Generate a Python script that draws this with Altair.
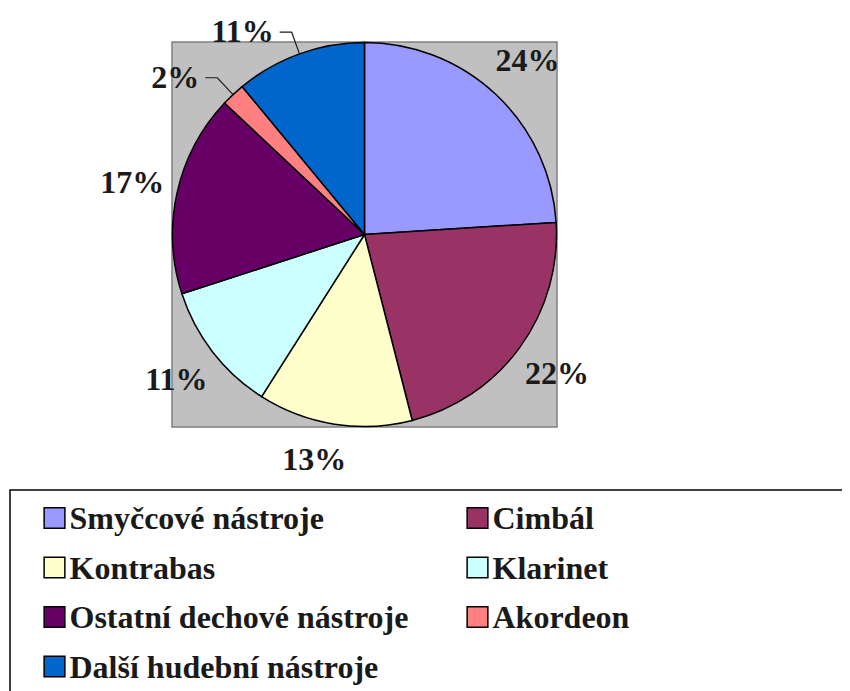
import math
import altair as alt
import pandas as pd

# ---- data ----
categories = ["Smyčcové nástroje", "Cimbál", "Kontrabas", "Klarinet",
              "Ostatní dechové nástroje", "Akordeon", "Další hudební nástroje"]
values = [24, 22, 13, 11, 17, 2, 11]
colors = ["#9999FF", "#993366", "#FFFFCC", "#CCFFFF", "#660066", "#FF8080", "#0066CC"]
leader_slices = ["Akordeon", "Další hudební nástroje"]

# ---- layout constants (chart coordinates = page - 8px margin) ----
CX, CY, R = 356.5, 226.5, 192
LABEL_R = 238
ELBOW_R = 215
FONT = "Liberation Serif"
NUDGED = "Kontrabas"          # label shifted by the original's label layout
NUDGE_DX, NUDGE_DY = -13, -10

total = sum(values)
rows = []
cum = 0
for i, (c, v) in enumerate(zip(categories, values)):
    kind = "leader" if c in leader_slices else ("nudge" if c == NUDGED else "plain")
    rows.append(dict(cat=c, value=v, label=f"{v}%", start=cum, end=cum + v,
                     mid=cum + v / 2, order=i, col=i % 2, row=i // 2, kind=kind))
    cum += v
df = pd.DataFrame(rows)

# leader line geometry derived from slice mid-angles
lrows = []
for r in rows:
    if r["kind"] != "leader":
        continue
    a = r["mid"] / total * 2 * math.pi
    ex, ey = CX + R * math.sin(a), CY - R * math.cos(a)
    bx, by = CX + ELBOW_R * math.sin(a), CY - ELBOW_R * math.cos(a)
    lrows += [dict(cat=r["cat"], k=0, px=ex, py=ey),
              dict(cat=r["cat"], k=1, px=bx, py=by),
              dict(cat=r["cat"], k=2, px=bx - 12, py=by)]
ldf = pd.DataFrame(lrows)

theta_scale = alt.Scale(domain=[0, total])
color_scale = alt.Scale(domain=categories, range=colors)
one = pd.DataFrame({"a": [0]})

panel = alt.Chart(one).mark_rect(fill="#C0C0C0", stroke="#808080", strokeWidth=1.5).encode(
    x=alt.value(CX - R - 0.5), x2=alt.value(CX + R + 0.5),
    y=alt.value(CY - R - 0.5), y2=alt.value(CY + R + 0.5))

pie = alt.Chart(df).mark_arc(stroke="black", strokeWidth=1.5).encode(
    theta=alt.Theta("start:Q", scale=theta_scale, stack=None),
    theta2="end:Q",
    color=alt.Color("cat:N", scale=color_scale, legend=None),
    order=alt.Order("order:Q"),
    x=alt.value(CX), y=alt.value(CY), radius=alt.value(R))


def pct_labels(kind, radius, **mark_kw):
    return alt.Chart(df).transform_filter(alt.datum.kind == kind).mark_text(
        font=FONT, fontSize=32, fontWeight="bold", color="#1a1a1a",
        baseline="middle", **mark_kw).encode(
        theta=alt.Theta("mid:Q", scale=theta_scale, stack=None),
        radius=alt.value(radius), text="label:N",
        x=alt.value(CX), y=alt.value(CY))


labels_main = pct_labels("plain", LABEL_R, align="center")
labels_nudge = pct_labels("nudge", LABEL_R, align="center", dx=NUDGE_DX, dy=NUDGE_DY)
labels_lead = pct_labels("leader", ELBOW_R, align="right", dx=-18)

leaders = alt.Chart(ldf).mark_line(color="#1a1a1a", strokeWidth=1.2).encode(
    x=alt.X("px:Q", scale=None, axis=None),
    y=alt.Y("py:Q", scale=None, axis=None),
    detail="cat:N", order="k:Q")

legend_box = alt.Chart(one).mark_rect(fill="white", stroke="black", strokeWidth=1.5).encode(
    x=alt.value(2), x2=alt.value(880), y=alt.value(482), y2=alt.value(740))

lx = alt.X("col:Q", scale=alt.Scale(domain=[0, 1], range=[46.5, 469.5]), axis=None)
ly = alt.Y("row:Q", scale=alt.Scale(domain=[0, 3], range=[510, 658.5]), axis=None)

legend_sq = alt.Chart(df).mark_square(size=430, filled=True, stroke="black",
                                      strokeWidth=1.5, opacity=1).encode(
    x=lx, y=ly, color=alt.Color("cat:N", scale=color_scale, legend=None))

legend_txt = alt.Chart(df).mark_text(font=FONT, fontSize=32, fontWeight="bold",
                                     color="#1a1a1a", align="left",
                                     baseline="alphabetic", dx=15, dy=11).encode(
    x=lx, y=ly, text="cat:N")

chart = alt.layer(panel, pie, labels_main, labels_nudge, labels_lead, leaders,
                  legend_box, legend_sq, legend_txt).resolve_scale(
    x="independent", y="independent").properties(
    width=834, height=683, padding=0,
    autosize=alt.AutoSizeParams(type="none"),
    background="white").configure_view(stroke=None)

chart.save("out.html", embed_options={"renderer": "svg", "actions": False})
